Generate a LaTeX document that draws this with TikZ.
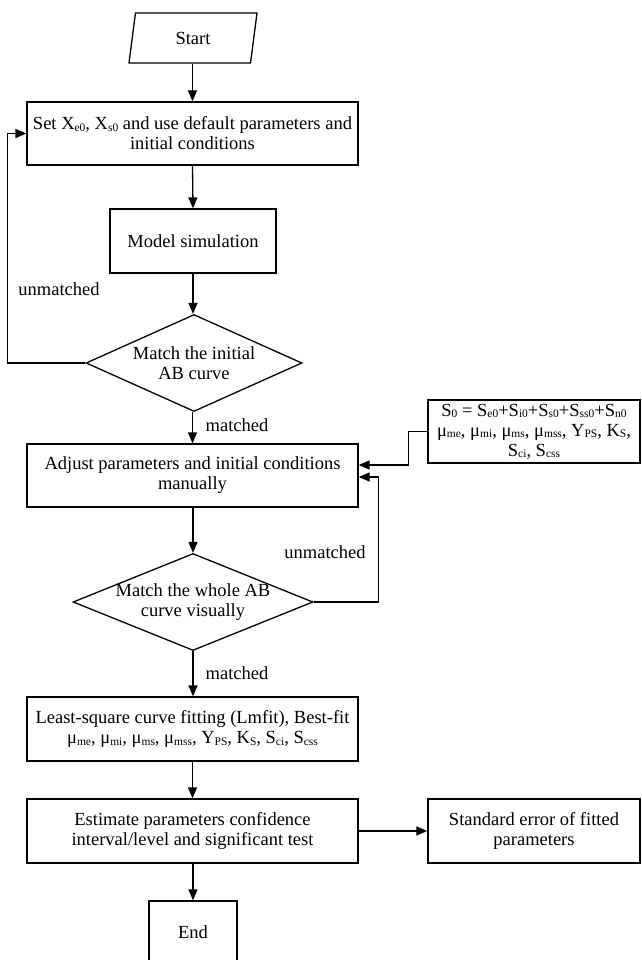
\documentclass[tikz,border=0pt]{standalone}
\usepackage{fontspec}
\setmainfont{Liberation Serif}
\usetikzlibrary{shapes.geometric,arrows.meta}
\newcommand\subx[1]{{\fontsize{11.5}{10}\selectfont\raisebox{-0.3ex}{#1}}}
\tikzset{
  txt/.style={font=\fontsize{18.5}{20}\selectfont},
  box/.style={txt, draw, line width=1.3pt, align=center, inner sep=0pt},
  dec/.style={draw, line width=1.3pt, diamond, inner sep=0pt},
  lbl/.style={txt},
  arr/.style={line width=1.3pt, -{Triangle[length=11pt,width=9pt]}}
}
\begin{document}
\begin{tikzpicture}[x=1pt,y=-1pt]
\useasboundingbox (0,0) rectangle (641,960);
\node[txt, draw, line width=1.3pt, trapezium, trapezium left angle=62.5, trapezium right angle=117.5, trapezium stretches body, minimum width=128pt, minimum height=50pt, inner sep=0pt] (start) at (193,38) {Start};
\node[box, minimum width=331pt, minimum height=63pt] (b1) at (192.5,133.5) {Set X\subx{e0}, X\subx{s0} and use default parameters and\\initial conditions};
\node[box, minimum width=166pt, minimum height=64pt] (ms) at (193,241) {Model simulation};
\node[dec, aspect=2.23, minimum width=216pt, minimum height=97pt] (d1) at (194,363) {};
\node[txt, align=center] (d1t) at (194,363) {Match the initial\\AB curve};
\node[box, minimum width=331pt, minimum height=63pt] (b2) at (192.5,475.5) {Adjust parameters and initial conditions\\manually};
\node[box, minimum width=212pt, minimum height=63pt] (s0) at (534,431.5) {S\subx{0} = S\subx{e0}+S\subx{i0}+S\subx{s0}+S\subx{ss0}+S\subx{n0}\\μ\subx{me}, μ\subx{mi}, μ\subx{ms}, μ\subx{mss}, Y\subx{PS}, K\subx{S},\\S\subx{ci}, S\subx{css}};
\node[dec, aspect=2.47, minimum width=240pt, minimum height=97pt] (d2) at (193,602) {};
\node[txt, align=center] (d2t) at (193,602) {Match the whole AB\\curve visually};
\node[box, minimum width=331pt, minimum height=64pt] (b3) at (192.5,729) {Least-square curve fitting (Lmfit), Best-fit\\μ\subx{me}, μ\subx{mi}, μ\subx{ms}, μ\subx{mss}, Y\subx{PS}, K\subx{S}, S\subx{ci}, S\subx{css}};
\node[box, minimum width=331pt, minimum height=64pt] (b4) at (192.5,831) {Estimate parameters confidence\\interval/level and significant test};
\node[box, minimum width=212pt, minimum height=64pt] (se) at (534,831) {Standard error of fitted\\parameters};
\node[box, minimum width=88pt, minimum height=62pt] (end) at (193,932) {End};
\node[lbl] (u1) at (59,289) {unmatched};
\node[lbl] (u2) at (325,552) {unmatched};
\node[lbl] (m1) at (237,425) {matched};
\node[lbl] (m2) at (237,673) {matched};
\draw[arr] (b1.north |- start.south) -- (b1.north);
\draw[arr] (b1.south) -- (ms.north);
\draw[arr] (ms.south) -- (d1.north -| ms.south);
\draw[arr] (d1.west) -- ++(-78,0) |- (b1.west);
\draw[arr] (d1.south -| b2.north) -- (b2.north);
\draw[arr] (s0.west) -- ++(-19,0) |- ([yshift=10.5pt]b2.east);
\draw[arr] (b2.south -| d2.north) -- (d2.north);
\draw[arr] (d2.east) -- ++(65,0) |- ([yshift=-1.5pt]b2.east);
\draw[arr] (d2.south) -- (b3.north -| d2.south);
\draw[arr] (b3.south -| b4.north) -- (b4.north);
\draw[arr] (b4.east) -- (se.west);
\draw[arr] (b4.south -| end.north) -- (end.north);
\end{tikzpicture}
\end{document}
